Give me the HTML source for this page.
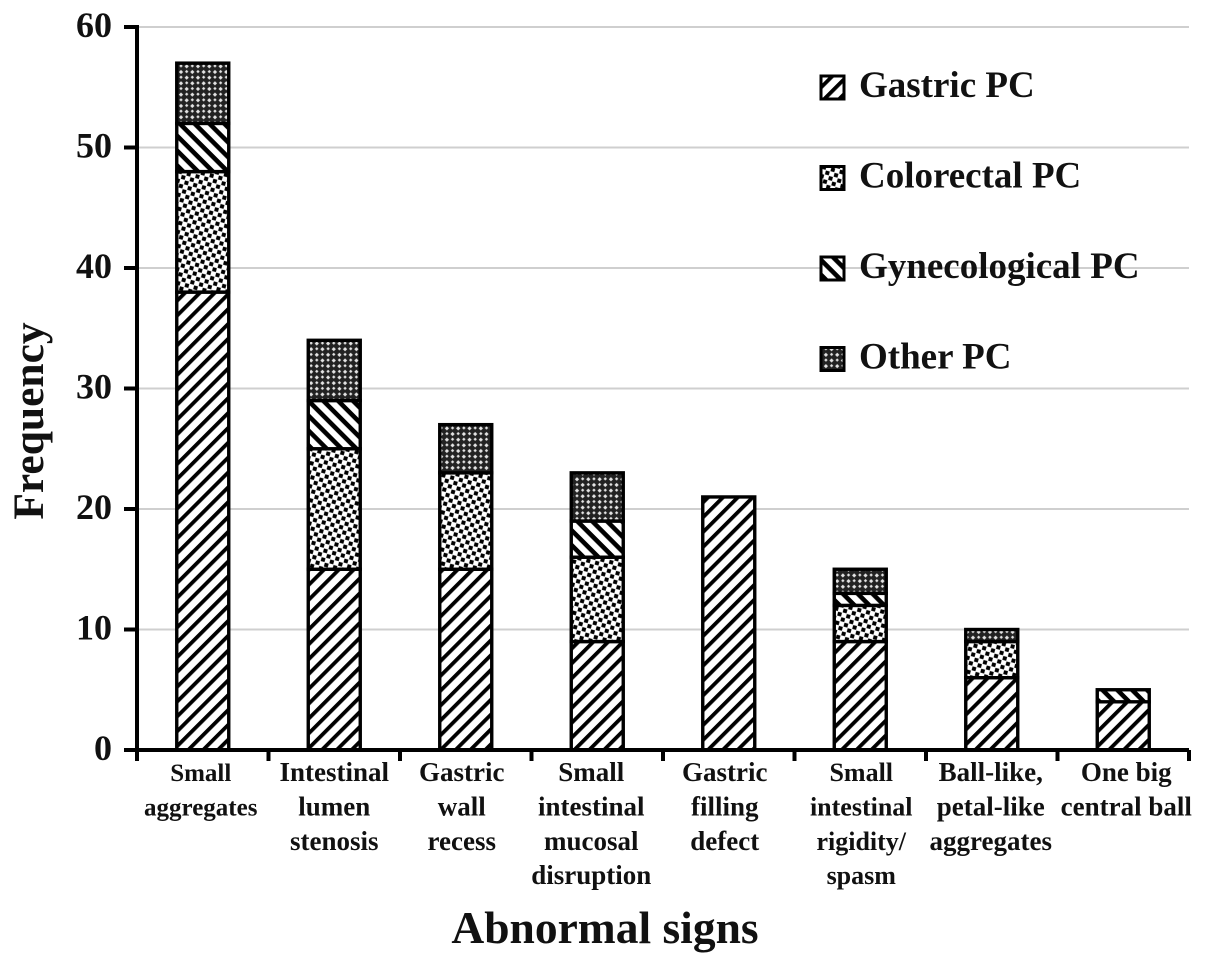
<!DOCTYPE html>
<html lang="en">
<head>
<meta charset="utf-8">
<title>Abnormal signs by PC type</title>
<style>
html,body{margin:0;padding:0;background:#fff;width:1205px;height:966px;overflow:hidden}
svg{display:block}
text{font-family:"Liberation Serif",serif;font-weight:bold;fill:#111}
</style>
</head>
<body>
<svg id="chart" width="1205" height="966" viewBox="0 0 1205 966" xmlns="http://www.w3.org/2000/svg">
<defs>
<pattern id="p-gastric" width="10.5" height="10.5" patternUnits="userSpaceOnUse" patternTransform="rotate(-45)">
<rect width="10.5" height="10.5" fill="#fff"/><rect width="10.5" height="3.8" fill="#000"/>
</pattern>
<pattern id="p-colorectal" width="9" height="9" patternUnits="userSpaceOnUse" patternTransform="rotate(15)">
<rect width="9" height="9" fill="#fff"/><rect x="0.4" y="0.4" width="4" height="4" fill="#000"/><rect x="4.9" y="4.9" width="4" height="4" fill="#000"/>
</pattern>
<pattern id="p-gyn" width="10.5" height="10.5" patternUnits="userSpaceOnUse" patternTransform="rotate(45)">
<rect width="10.5" height="10.5" fill="#fff"/><rect width="10.5" height="4.6" fill="#000"/>
</pattern>
<pattern id="p-other" width="8" height="8" patternUnits="userSpaceOnUse" patternTransform="rotate(45)">
<rect width="8" height="8" fill="#222"/><rect x="1.4" y="1.4" width="3" height="3" fill="#e4e4e4"/><rect x="5.4" y="5.4" width="2.4" height="2.4" fill="#e4e4e4"/>
</pattern>
</defs>
<g id="grid"></g>
<g id="bars"></g>
<g id="axes"></g>
<g id="labels"></g>
<g id="legend"></g>
<text transform="translate(43,421) rotate(-90)" text-anchor="middle" font-size="43.5">Frequency</text>
<text x="605" y="943" text-anchor="middle" font-size="45.5">Abnormal signs</text>
</svg>
<script>
const categories = [
  ["Small","aggregates"],
  ["Intestinal","lumen","stenosis"],
  ["Gastric","wall","recess"],
  ["Small","intestinal","mucosal","disruption"],
  ["Gastric","filling","defect"],
  ["Small","intestinal","rigidity/","spasm"],
  ["Ball-like,","petal-like","aggregates"],
  ["One big","central ball"]
];
const gastric    = [38,15,15,9,21,9,6,4];
const colorectal = [10,10,8,7,0,3,3,0];
const gynecological = [4,4,0,3,0,1,0,1];
const other      = [5,5,4,4,0,2,1,0];
const yTicks = [0,10,20,30,40,50,60];
const seriesNames = ["Gastric PC","Colorectal PC","Gynecological PC","Other PC"];

const NS = "http://www.w3.org/2000/svg";
const x0 = 137, x1 = 1189, y0 = 750, yTop = 27, yMax = 60;
const band = (x1 - x0) / categories.length;
const barW = 52;
const labelNudge = [-2,0,-4,-6,-4,1,-1,3];
const yScale = v => y0 - v * (y0 - yTop) / yMax;
const xCenter = i => x0 + band * (i + 0.5);
function mk(parent, tag, attrs, txt) {
  const e = document.createElementNS(NS, tag);
  for (const k in attrs) e.setAttribute(k, attrs[k]);
  if (txt !== undefined) e.textContent = txt;
  document.getElementById(parent).appendChild(e);
  return e;
}

yTicks.forEach(t => {
  if (t > 0) {
    const g = mk("grid", "line", {x1: x0, x2: x1, y1: yScale(t), y2: yScale(t), stroke: "#cfcfcf", "stroke-width": 2});
    
    
  }
  const tk = mk("axes", "line", {x1: 124, x2: x0, y1: yScale(t), y2: yScale(t), stroke: "#000", "stroke-width": 4});
  
  
  const lb = mk("labels", "text", {x: 112, y: yScale(t) + 10, "text-anchor": "end", "font-size": 36}, String(t));
  
  
});

const series = [gastric, colorectal, gynecological, other];
const fills = ["url(#p-gastric)","url(#p-colorectal)","url(#p-gyn)","url(#p-other)"];
categories.forEach((c, i) => {
  let acc = 0;
  series.forEach((s, k) => {
    const v = s[i];
    if (!v) return;
    const top = yScale(acc + v), bot = yScale(acc);
    const r = mk("bars", "rect", {x: xCenter(i) - barW / 2, y: top, width: barW, height: bot - top, fill: fills[k], stroke: "#000", "stroke-width": 3.4});
    
    
    acc += v;
  });
  c.forEach((line, j) => {
    const size = i === 0 ? 25 : (i === 5 ? 26 : 27);
    const t = mk("labels", "text", {x: xCenter(i) + labelNudge[i], y: 781 + j * 34.4, "text-anchor": "middle", "font-size": size}, line);
    
    
  });
});

for (let i = 0; i <= categories.length; i++) {
  const tk = mk("axes", "line", {x1: x0 + band * i, x2: x0 + band * i, y1: y0, y2: 761, stroke: "#000", "stroke-width": 4});
  
  
}
const ya = mk("axes", "line", {x1: x0, x2: x0, y1: yTop - 2, y2: 761, stroke: "#000", "stroke-width": 4});


const xa = mk("axes", "line", {x1: 124, x2: x1, y1: y0, y2: y0, stroke: "#000", "stroke-width": 4});



seriesNames.forEach((n, k) => {
  const top = 76 + k * 90.5;
  const sw = mk("legend", "rect", {x: 821, y: top, width: 23, height: 23, fill: fills[k], stroke: "#000", "stroke-width": 3});
  
  
  const t = mk("legend", "text", {x: 859, y: top + 21, "font-size": 37}, n);
  
  
});
</script>
</body>
</html>
